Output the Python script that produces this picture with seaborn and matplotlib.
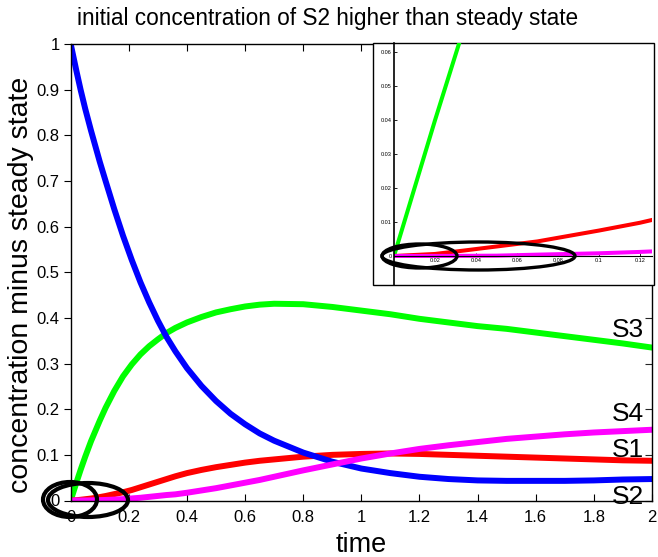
import numpy as np
import pandas as pd
import matplotlib
matplotlib.use("Agg")
import matplotlib.pyplot as plt
import seaborn as sns
from matplotlib.patches import Ellipse, Rectangle

# ---------------- data ----------------
time = [0.0, 0.02, 0.034, 0.05, 0.07, 0.1, 0.12, 0.15, 0.18, 0.21, 0.24, 0.27, 0.3, 0.33, 0.36,
        0.4, 0.45, 0.5, 0.55, 0.6, 0.65, 0.7, 0.8, 0.9, 1.0, 1.1, 1.2, 1.3, 1.4, 1.5, 1.6,
        1.7, 1.8, 1.9, 2.0]
S1 = [0.0, 0.0006, 0.0016, 0.0028, 0.0043, 0.0075, 0.0098, 0.014, 0.018, 0.023, 0.029, 0.035,
      0.041, 0.047, 0.053, 0.06, 0.067, 0.073, 0.078, 0.083, 0.087, 0.09, 0.096, 0.1, 0.102,
      0.103, 0.102, 0.1, 0.098, 0.096, 0.094, 0.092, 0.09, 0.088, 0.087]
S2 = [1.0, 0.94, 0.9, 0.858, 0.81, 0.742, 0.7, 0.638, 0.58, 0.527, 0.478, 0.434, 0.394, 0.358,
      0.327, 0.29, 0.251, 0.218, 0.19, 0.167, 0.147, 0.131, 0.105, 0.085, 0.07, 0.06, 0.052,
      0.047, 0.044, 0.043, 0.043, 0.043, 0.044, 0.046, 0.047]
S3 = [0.0, 0.04, 0.067, 0.096, 0.13, 0.175, 0.203, 0.24, 0.272, 0.298, 0.32, 0.338, 0.353,
      0.367, 0.378, 0.39, 0.402, 0.412, 0.419, 0.425, 0.429, 0.431, 0.43, 0.424, 0.416, 0.408,
      0.398, 0.39, 0.382, 0.376, 0.368, 0.36, 0.352, 0.344, 0.335]
S4 = [0.0, 0.00002, 0.00005, 0.0001, 0.0004, 0.0008, 0.0012, 0.002, 0.003, 0.0045, 0.006,
      0.008, 0.01, 0.012, 0.0135, 0.017, 0.022, 0.027, 0.033, 0.039, 0.045, 0.052, 0.066,
      0.079, 0.092, 0.103, 0.113, 0.121, 0.128, 0.135, 0.14, 0.145, 0.149, 0.152, 0.155]

species = ["S3", "S1", "S2", "S4"]
colors = {"S1": "#ff0000", "S2": "#0000ff", "S3": "#00ff00", "S4": "#ff00ff"}
label_y = {"S3": 0.358, "S4": 0.175, "S1": 0.095, "S2": -0.008}

main_xticks = [0, 0.2, 0.4, 0.6, 0.8, 1, 1.2, 1.4, 1.6, 1.8, 2]
main_yticks = [0, 0.1, 0.2, 0.3, 0.4, 0.5, 0.6, 0.7, 0.8, 0.9, 1]
inset_xticks = [0.02, 0.04, 0.06, 0.08, 0.1, 0.12]
inset_yticks = [0, 0.01, 0.02, 0.03, 0.04, 0.05, 0.06]

series = {"S1": S1, "S2": S2, "S3": S3, "S4": S4}
df = pd.concat([pd.DataFrame({"time": time, "value": series[s], "species": s}) for s in species],
               ignore_index=True)

# ---------------- style ----------------
sns.set_theme(style="white")
plt.rcParams["font.family"] = ["Liberation Sans", "DejaVu Sans"]

W, H = 658, 557
fig = plt.figure(figsize=(W / 100, H / 100), dpi=100)

def fx(px):
    return px / W

def fy(py):
    return (H - py) / H

# main axes
L, R, T, B = 70.7, 652, 44, 500.5
ax = fig.add_axes([fx(L), fy(B), (R - L) / W, (B - T) / H])
sns.lineplot(data=df, x="time", y="value", hue="species", hue_order=species,
             palette=colors, linewidth=4.3, legend=False, ax=ax, sort=False,
             estimator=None)
ax.set_xlim(0, 2)
ax.set_ylim(0, 1)
ax.set_xticks(main_xticks)
ax.set_xticklabels(["0", "0.2", "0.4", "0.6", "0.8", "1", "1.2", "1.4", "1.6", "1.8", "2"])
ax.set_yticks(main_yticks)
ax.set_yticklabels(["0", "0.1", "0.2", "0.3", "0.4", "0.5", "0.6", "0.7", "0.8", "0.9", "1"])
for sp in ax.spines.values():
    sp.set_visible(True)
    sp.set_color("black")
    sp.set_linewidth(1.0)
ax.tick_params(axis="x", direction="in", length=5, width=0.8, top=True, bottom=True,
               labelsize=12, pad=7, colors="black")
ax.tick_params(axis="y", which="both", left=True, right=False, direction="out", length=5,
               width=0.8, labelsize=12, pad=3, colors="black")
axr = ax.secondary_yaxis("right")
axr.set_yticks(main_yticks)
axr.tick_params(direction="in", length=5, width=0.8, labelright=False)
axr.spines["right"].set_visible(False)
ax.set_xlabel("time", fontsize=19.5, color="black")
ax.xaxis.set_label_coords(0.5, (B - 551.5) / (B - T))
ax.xaxis.label.set_va("baseline")
ax.set_ylabel("concentration minus steady state", fontsize=20.5, color="black")
ax.yaxis.set_label_coords(-0.0855, 0.472)
ax.yaxis.label.set_va("center")
ax.grid(False)

for s in species:
    ax.text(1.973, label_y[s], s, fontsize=19, ha="right", va="baseline", color="black",
            clip_on=False)

fig.text(fx(328), fy(18), "initial concentration of S2 higher than steady state",
         fontsize=16.3, ha="center", va="center", color="black")

# ellipses around the origin on the main plot
fig.add_artist(Ellipse((fx(70), fy(499.5)), 54 / W, 35 / H, transform=fig.transFigure,
                       fill=False, edgecolor="black", linewidth=3))
fig.add_artist(Ellipse((fx(88), fy(500)), 80 / W, 34 / H, transform=fig.transFigure,
                       fill=False, edgecolor="black", linewidth=3))

# ---------------- inset ----------------
fig.add_artist(Rectangle((fx(373), fy(285)), (654 - 373) / W, (285 - 43) / H,
                         transform=fig.transFigure, facecolor="white", edgecolor="black",
                         linewidth=1.0, zorder=5))
iL, iR, iT, iB = 394, 652, 43, 285
axi = fig.add_axes([fx(iL), fy(iB), (iR - iL) / W, (iB - iT) / H], zorder=6)
axi.patch.set_alpha(0)
sns.lineplot(data=df, x="time", y="value", hue="species", hue_order=species,
             palette=colors, linewidth=2.9, legend=False, ax=axi, sort=False,
             estimator=None)
axi.set_xlim(0, 0.1259)
axi.set_ylim(-0.00855, 0.0628)
axi.set_xticks(inset_xticks)
axi.set_xticklabels(["0.02", "0.04", "0.06", "0.08", "0.1", "0.12"])
axi.set_yticks(inset_yticks)
axi.set_yticklabels(["0", "0.01", "0.02", "0.03", "0.04", "0.05", "0.06"])
axi.spines["top"].set_visible(False)
axi.spines["right"].set_visible(False)
axi.spines["left"].set_visible(True)
axi.spines["bottom"].set_visible(True)
axi.spines["left"].set_color("black")
axi.spines["left"].set_linewidth(1.2)
axi.spines["bottom"].set_position(("data", 0))
axi.spines["bottom"].set_color("black")
axi.spines["bottom"].set_linewidth(0.8)
axi.tick_params(direction="in", length=2, width=0.6, labelsize=4, pad=1.5, colors="black",
                left=True, bottom=True)
axi.set_xlabel("")
axi.set_ylabel("")
axi.grid(False)

fig.add_artist(Ellipse((fx(419.5), fy(256)), 75 / W, 24 / H, transform=fig.transFigure,
                       fill=False, edgecolor="black", linewidth=2.4, zorder=7))
fig.add_artist(Ellipse((fx(478.5), fy(256)), 193 / W, 28 / H, transform=fig.transFigure,
                       fill=False, edgecolor="black", linewidth=2.4, zorder=7))

fig.savefig("out.png", dpi=100)
